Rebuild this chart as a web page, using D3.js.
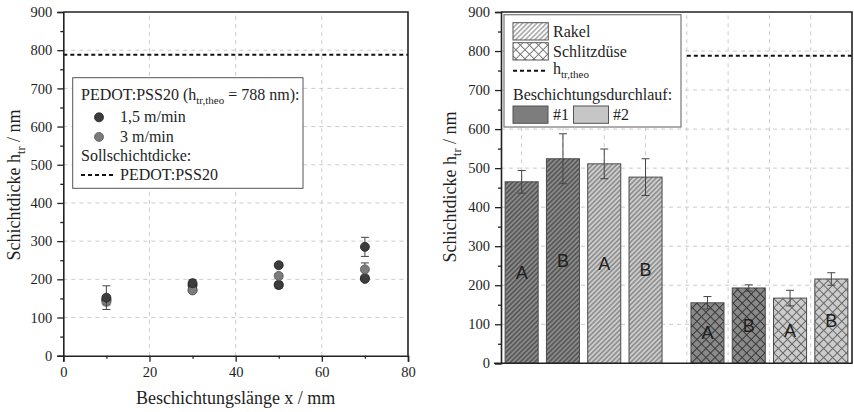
<!DOCTYPE html>
<html>
<head>
<meta charset="utf-8">
<script src="https://cdn.jsdelivr.net/npm/d3@7"></script>
<style>
  body { margin: 0; background: #fff; }
  svg { display: block; }
  text { font-family: "Liberation Serif", "Times New Roman", serif; fill: #1e1e1e; }
  text.sans { font-family: "Liberation Sans", Arial, sans-serif; }
</style>
</head>
<body>
<svg id="chart" width="854" height="412"></svg>
<script>
// ---------- left panel: layer thickness along the coating length ----------
const lengthsMm = [10, 30, 50, 70];
const speedLabels = ["1,5 m/min", "3 m/min"];
// two measurement tracks per speed
const fastTrackA = [152, 190, 237, 285];
const fastTrackAErr = [31, 9, 5, 25];
const fastTrackB = [146, 184, 185, 201];
const fastTrackBErr = [6, 6, 8, 4];
const slowTrackA = [141, 171, 209, 226];
const slowTrackAErr = [8, 4, 6, 17];
const slowTrackB = [146, 172, 186, 204];
const slowTrackBErr = [4, 4, 5, 4];
const targetThickness = 788;
const xTicksLeft = [0, 20, 40, 60, 80];
const yTicks = [0, 100, 200, 300, 400, 500, 600, 700, 800, 900];

// ---------- right panel: coating method comparison ----------
const barPositions = [1, 2, 3, 4, 5.5, 6.5, 7.5, 8.5];
const barMethods = ["Rakel", "Rakel", "Rakel", "Rakel", "Schlitzdüse", "Schlitzdüse", "Schlitzdüse", "Schlitzdüse"];
const barRuns = [1, 1, 2, 2, 1, 1, 2, 2];
const barLetters = ["A", "B", "A", "B", "A", "B", "A", "B"];
const barValues = [465, 524, 511, 477, 155, 193, 167, 216];
const barErrors = [29, 64, 38, 47, 16, 8, 20, 16];
const theoLineStart = 5;

const serif = '"Liberation Serif", "Times New Roman", serif';
const svg = d3.select("#chart");
const defs = svg.append("defs");

function makePattern(id, bg, fg, size, cross) {
  const p = defs.append("pattern")
    .attr("id", id)
    .attr("patternUnits", "userSpaceOnUse")
    .attr("width", size).attr("height", size)
    .attr("patternTransform", "rotate(45)");
  p.append("rect").attr("width", size).attr("height", size).attr("fill", bg);
  p.append("line")
    .attr("x1", size / 2).attr("x2", size / 2).attr("y1", 0).attr("y2", size)
    .attr("stroke", fg).attr("stroke-width", 1);
  if (cross) {
    p.append("line")
      .attr("y1", size / 2).attr("y2", size / 2).attr("x1", 0).attr("x2", size)
      .attr("stroke", fg).attr("stroke-width", 1);
  }
}
const runColors = { 1: { bg: "#8a8a8a", fg: "#363636" }, 2: { bg: "#cdcdcd", fg: "#666" } };
makePattern("rakel1", runColors[1].bg, runColors[1].fg, 3.4, false);
makePattern("rakel2", runColors[2].bg, runColors[2].fg, 3.4, false);
makePattern("slot1", runColors[1].bg, runColors[1].fg, 6.4, true);
makePattern("slot2", runColors[2].bg, runColors[2].fg, 6.4, true);
makePattern("rakelKey", "#ffffff", "#777", 3.4, false);
makePattern("slotKey", "#ffffff", "#777", 6.4, true);

const gridStyle = sel => sel.attr("stroke", "#cbcbcb").attr("stroke-width", 1).attr("stroke-dasharray", "4,4");
const axisColor = "#222";

function styleAxis(g) {
  g.attr("font-family", null);
  g.selectAll(".domain").attr("stroke", axisColor).attr("stroke-width", 1.6);
  g.selectAll(".tick line").attr("stroke", axisColor).attr("stroke-width", 1.3);
  g.selectAll(".tick text")
    .style("font-family", serif).style("font-size", "14.5px").attr("fill", "#1e1e1e");
}

function yTitle(x, y) {
  const t = svg.append("text")
    .attr("transform", `translate(${x},${y}) rotate(-90)`)
    .attr("text-anchor", "middle").attr("font-size", 18);
  t.append("tspan").text("Schichtdicke h");
  t.append("tspan").attr("font-size", 12).attr("dy", 5).text("tr");
  t.append("tspan").attr("dy", -5).text(" / nm");
}

// ================= LEFT PANEL =================
const xL = d3.scaleLinear().domain([0, 80]).range([63.3, 408]);
const yL = d3.scaleLinear().domain([0, 900]).range([355.7, 12]);

const left = svg.append("g");
left.selectAll(".vgrid").data([20, 40, 60]).join("line")
  .attr("x1", d => xL(d)).attr("x2", d => xL(d))
  .attr("y1", yL(0)).attr("y2", yL(900)).call(gridStyle);
left.selectAll(".hgrid").data(yTicks.filter(d => d > 0 && d < 900)).join("line")
  .attr("x1", xL(0)).attr("x2", xL(80))
  .attr("y1", d => yL(d)).attr("y2", d => yL(d)).call(gridStyle);

// target thickness
left.append("line")
  .attr("x1", xL(0)).attr("x2", xL(80))
  .attr("y1", yL(targetThickness)).attr("y2", yL(targetThickness))
  .attr("stroke", "#111").attr("stroke-width", 2).attr("stroke-dasharray", "4,3");

// measurement points
const pointSets = [
  { vals: slowTrackB, err: slowTrackBErr, fill: "#7b7b7b", stroke: "#555" },
  { vals: fastTrackB, err: fastTrackBErr, fill: "#3c3c3c", stroke: "#222" },
  { vals: slowTrackA, err: slowTrackAErr, fill: "#7b7b7b", stroke: "#555" },
  { vals: fastTrackA, err: fastTrackAErr, fill: "#3c3c3c", stroke: "#222" }
];
pointSets.forEach(set => {
  const rows = lengthsMm.map((x, i) => ({ x, v: set.vals[i], e: set.err[i] }));
  const eg = left.append("g").attr("stroke", "#444").attr("stroke-width", 1);
  rows.forEach(r => {
    eg.append("line").attr("x1", xL(r.x)).attr("x2", xL(r.x)).attr("y1", yL(r.v - r.e)).attr("y2", yL(r.v + r.e));
    [r.v - r.e, r.v + r.e].forEach(c => eg.append("line")
      .attr("x1", xL(r.x) - 4).attr("x2", xL(r.x) + 4).attr("y1", yL(c)).attr("y2", yL(c)));
  });
  left.append("g").selectAll("circle").data(rows).join("circle")
    .attr("cx", d => xL(d.x)).attr("cy", d => yL(d.v)).attr("r", 4.5)
    .attr("fill", set.fill).attr("stroke", set.stroke).attr("stroke-width", 0.8);
});

// axes
left.append("g").attr("transform", `translate(0,${yL(0)})`)
  .call(d3.axisBottom(xL).tickValues(xTicksLeft).tickSize(6).tickPadding(5)).call(styleAxis);
left.append("g").attr("transform", `translate(0,${yL(0)})`)
  .call(d3.axisBottom(xL).tickValues([10, 30, 50, 70]).tickSize(3).tickFormat("")).call(styleAxis)
  .select(".domain").remove();
left.append("g").attr("transform", `translate(${xL(0)},0)`)
  .call(d3.axisLeft(yL).tickValues(yTicks).tickSize(6).tickPadding(5)).call(styleAxis);
left.append("g").attr("transform", `translate(${xL(0)},0)`)
  .call(d3.axisLeft(yL).tickValues(d3.range(50, 900, 100)).tickSize(3).tickFormat("")).call(styleAxis)
  .select(".domain").remove();
left.append("path")
  .attr("d", `M${xL(0)},${yL(900)}H${xL(80)}V${yL(0)}`)
  .attr("fill", "none").attr("stroke", axisColor).attr("stroke-width", 1.6);

// legend
const lg = left.append("g");
lg.append("rect").attr("x", 72.7).attr("y", 77.7).attr("width", 230.3).attr("height", 110.6)
  .attr("fill", "#fff").attr("stroke", "#555").attr("stroke-width", 1);
const lt = lg.append("text").attr("x", 81).attr("y", 100).attr("font-size", 16);
lt.append("tspan").text(`PEDOT:PSS20 (h`);
lt.append("tspan").attr("font-size", 11).attr("dy", 4).text("tr,theo");
lt.append("tspan").attr("dy", -4).text(` = ${targetThickness} nm):`);
[{ y: 117.3, fill: "#3c3c3c", stroke: "#222" }, { y: 136.9, fill: "#7b7b7b", stroke: "#555" }].forEach((s, i) => {
  lg.append("circle").attr("cx", 99).attr("cy", s.y).attr("r", 4.5)
    .attr("fill", s.fill).attr("stroke", s.stroke).attr("stroke-width", 0.8);
  lg.append("text").attr("x", 120).attr("y", s.y + 5).attr("font-size", 16).text(speedLabels[i]);
});
lg.append("text").attr("x", 81).attr("y", 161).attr("font-size", 16).text("Sollschichtdicke:");
lg.append("line").attr("x1", 81).attr("x2", 113).attr("y1", 175).attr("y2", 175)
  .attr("stroke", "#111").attr("stroke-width", 2).attr("stroke-dasharray", "4,3");
lg.append("text").attr("x", 120).attr("y", 180).attr("font-size", 16).text("PEDOT:PSS20");

yTitle(20, 185);
svg.append("text").attr("x", (xL(0) + xL(80)) / 2).attr("y", 404)
  .attr("text-anchor", "middle").attr("font-size", 18).text("Beschichtungslänge x / mm");

// ================= RIGHT PANEL =================
const xR = d3.scaleLinear().domain([0.5, 9]).range([501, 852]);
const yR = d3.scaleLinear().domain([0, 900]).range([363.3, 12]);
const right = svg.append("g");

right.selectAll(".vgrid").data(d3.range(1, 9)).join("line")
  .attr("x1", d => xR(d)).attr("x2", d => xR(d))
  .attr("y1", yR(0)).attr("y2", yR(900)).call(gridStyle);
right.selectAll(".hgrid").data(yTicks.filter(d => d > 0 && d < 900)).join("line")
  .attr("x1", xR(0.5)).attr("x2", xR(9))
  .attr("y1", d => yR(d)).attr("y2", d => yR(d)).call(gridStyle);

right.append("line")
  .attr("x1", xR(theoLineStart)).attr("x2", xR(9))
  .attr("y1", yR(targetThickness)).attr("y2", yR(targetThickness))
  .attr("stroke", "#111").attr("stroke-width", 2).attr("stroke-dasharray", "4,3");

const bars = barPositions.map((p, i) => ({
  p, v: barValues[i], e: barErrors[i], run: barRuns[i], method: barMethods[i], letter: barLetters[i]
}));
const patternOf = d => `url(#${d.method === "Rakel" ? "rakel" : "slot"}${d.run})`;

right.selectAll(".bar").data(bars).join("rect")
  .attr("x", d => xR(d.p - 0.4)).attr("width", d => xR(d.p + 0.4) - xR(d.p - 0.4))
  .attr("y", d => yR(d.v)).attr("height", d => yR(0) - yR(d.v))
  .attr("fill", patternOf).attr("stroke", "#4a4a4a").attr("stroke-width", 1);

right.selectAll(".letter").data(bars).join("text")
  .attr("class", "sans")
  .attr("x", d => xR(d.p)).attr("y", d => yR(d.v / 2))
  .attr("text-anchor", "middle").attr("dominant-baseline", "central")
  .attr("font-size", 18).attr("fill", "#1a1a1a").text(d => d.letter);

const eb = right.append("g").attr("stroke", "#444").attr("stroke-width", 1);
bars.forEach(d => {
  eb.append("line").attr("x1", xR(d.p)).attr("x2", xR(d.p)).attr("y1", yR(d.v - d.e)).attr("y2", yR(d.v + d.e));
  [d.v - d.e, d.v + d.e].forEach(c => eb.append("line")
    .attr("x1", xR(d.p) - 4).attr("x2", xR(d.p) + 4).attr("y1", yR(c)).attr("y2", yR(c)));
});

right.append("g").attr("transform", `translate(${xR(0.5)},0)`)
  .call(d3.axisLeft(yR).tickValues(yTicks).tickSize(6).tickPadding(5)).call(styleAxis);
right.append("g").attr("transform", `translate(${xR(0.5)},0)`)
  .call(d3.axisLeft(yR).tickValues(d3.range(50, 900, 100)).tickSize(3).tickFormat("")).call(styleAxis)
  .select(".domain").remove();
right.append("path")
  .attr("d", `M${xR(0.5) - 7},${yR(0)}H${xR(9)}V${yR(900)}H${xR(0.5)}`)
  .attr("fill", "none").attr("stroke", axisColor).attr("stroke-width", 1.6);

// legend
const rg = right.append("g");
rg.append("rect").attr("x", 504).attr("y", 14.7).attr("width", 177).attr("height", 112.3)
  .attr("fill", "#fff").attr("stroke", "#777").attr("stroke-width", 1.2);
[{ id: "rakelKey", y: 22.7, label: "Rakel" }, { id: "slotKey", y: 42.7, label: "Schlitzdüse" }].forEach(k => {
  rg.append("rect").attr("x", 513).attr("y", k.y).attr("width", 35.3).attr("height", 17.3)
    .attr("fill", `url(#${k.id})`).attr("stroke", "#555").attr("stroke-width", 1);
  rg.append("text").attr("x", 553).attr("y", k.y + 14).attr("font-size", 16).text(k.label);
});
rg.append("line").attr("x1", 513).attr("x2", 547).attr("y1", 70.7).attr("y2", 70.7)
  .attr("stroke", "#111").attr("stroke-width", 2).attr("stroke-dasharray", "4,3");
const ht = rg.append("text").attr("x", 553).attr("y", 74).attr("font-size", 16);
ht.append("tspan").text("h");
ht.append("tspan").attr("font-size", 11).attr("dy", 4).text("tr,theo");
rg.append("text").attr("x", 513).attr("y", 100).attr("font-size", 16).text("Beschichtungsdurchlauf:");
[{ run: 1, x: 513, tx: 553 }, { run: 2, x: 573.5, tx: 613 }].forEach(k => {
  rg.append("rect").attr("x", k.x).attr("y", 106).attr("width", 35).attr("height", 17.3)
    .attr("fill", k.run === 1 ? "#7d7d7d" : "#c6c6c6").attr("stroke", "#555").attr("stroke-width", 1);
  rg.append("text").attr("x", k.tx).attr("y", 120).attr("font-size", 16).text(`#${k.run}`);
});

yTitle(456, 187);
</script>
</body>
</html>
